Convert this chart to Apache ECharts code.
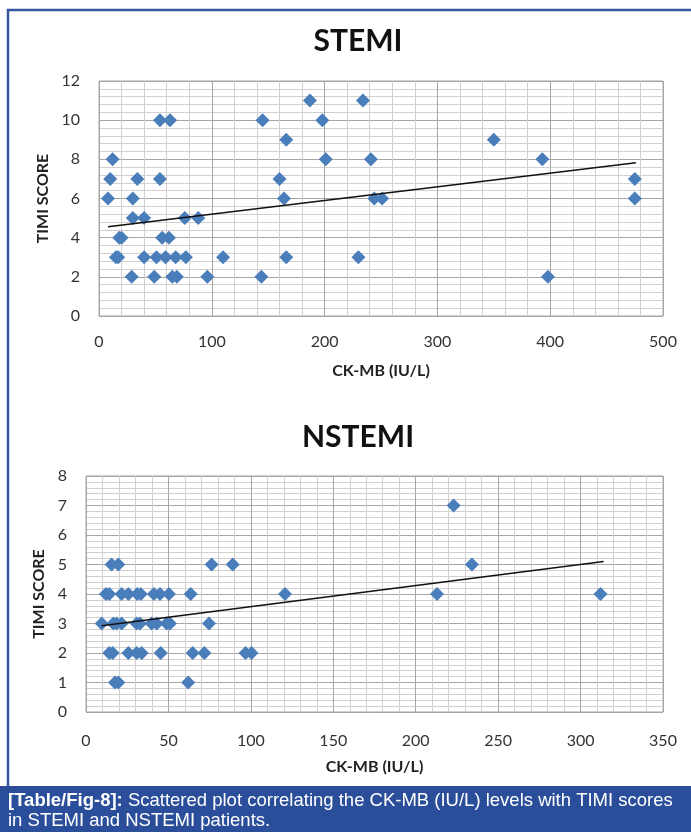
<!DOCTYPE html>
<html>
<head>
<meta charset="utf-8">
<script src="https://cdn.jsdelivr.net/npm/echarts@6/dist/echarts.min.js"></script>
<style>
html,body{margin:0;padding:0;background:#fff;}
#c{width:691px;height:832px;}
</style>
</head>
<body>
<div id="c"></div>
<script>
// STEMI data
var stemiX = [12, 10, 8, 30, 34, 54, 54, 63, 30, 40, 76, 88, 18, 20, 56, 62, 15, 17, 40, 51, 59, 68, 77, 110, 166, 29, 49, 65, 69, 96, 144, 145, 166, 187, 198, 201, 160, 164, 234, 241, 244, 251, 230, 350, 393, 398, 475, 475];
var stemiY = [8, 7, 6, 6, 7, 7, 10, 10, 5, 5, 5, 5, 4, 4, 4, 4, 3, 3, 3, 3, 3, 3, 3, 3, 3, 2, 2, 2, 2, 2, 2, 10, 9, 11, 10, 8, 7, 6, 11, 8, 6, 6, 3, 9, 8, 2, 7, 6];
var stemiTrendX = [8, 476];
var stemiTrendY = [4.56, 7.83];

// NSTEMI data
var nstemiX = [15.5, 19.6, 76.2, 89.0,
  12.1, 14.1, 21.6, 25.7, 31.1, 33.2, 41.2, 44.9, 50.3, 63.5, 120.7, 212.9, 312.1,
  9.5, 16.6, 18.6, 21.6, 30.7, 32.7, 39.8, 42.9, 48.9, 50.9, 74.6,
  14.1, 16.2, 25.7, 30.7, 33.8, 45.3, 64.7, 71.8, 96.8, 100.4,
  17.6, 19.6, 62.0,
  223.0, 234.1];
var nstemiY = [5, 5, 5, 5,
  4, 4, 4, 4, 4, 4, 4, 4, 4, 4, 4, 4, 4,
  3, 3, 3, 3, 3, 3, 3, 3, 3, 3, 3,
  2, 2, 2, 2, 2, 2, 2, 2, 2, 2,
  1, 1, 1,
  7, 5];
var nstemiTrendX = [9.5, 314];
var nstemiTrendY = [2.92, 5.10];

var titles = ['STEMI', 'NSTEMI'];
var xName = 'CK-MB (IU/L)';
var yName = 'TIMI SCORE';

function zip(a, b) { return a.map(function (v, i) { return [v, b[i]]; }); }

var font = 'Lato, "Liberation Sans", sans-serif';
var labelStyle = { color: '#333', fontSize: 16, fontFamily: font };
var nameStyle = { color: '#222', fontSize: 16, fontWeight: 'bold', fontFamily: font };

function xAxis(gi, max, interval, margin) {
  return {
    gridIndex: gi, type: 'value', min: 0, max: max, interval: interval,
    name: xName, nameLocation: 'middle', nameGap: 47, nameTextStyle: nameStyle,
    axisLine: { show: false }, axisTick: { show: false },
    axisLabel: Object.assign({ margin: margin }, labelStyle),
    splitLine: { show: true, lineStyle: { color: '#a6a6a6', width: 1 } },
    minorTick: { show: false, splitNumber: 5 },
    minorSplitLine: { show: true, lineStyle: { color: '#d0d0d0', width: 1 } }
  };
}
function yAxis(gi, max, interval, gap) {
  return {
    gridIndex: gi, type: 'value', min: 0, max: max, interval: interval,
    name: yName, nameLocation: 'middle', nameGap: gap, nameRotate: 90, nameTextStyle: nameStyle,
    axisLine: { show: false }, axisTick: { show: false },
    axisLabel: Object.assign({ margin: 19 }, labelStyle),
    splitLine: { show: true, lineStyle: { color: '#a6a6a6', width: 1 } },
    minorTick: { show: false, splitNumber: 5 },
    minorSplitLine: { show: true, lineStyle: { color: '#d0d0d0', width: 1 } }
  };
}

var chart = echarts.init(document.getElementById('c'), null, { renderer: 'canvas' });
chart.setOption({
  animation: false,
  backgroundColor: '#fff',
  title: [
    { text: titles[0], left: 353, top: 21, textAlign: 'center',
      textStyle: { fontSize: 30, fontWeight: 'bold', color: '#111', fontFamily: font } },
    { text: titles[1], left: 353, top: 417, textAlign: 'center',
      textStyle: { fontSize: 30, fontWeight: 'bold', color: '#111', fontFamily: font } }
  ],
  grid: [
    { left: 99, top: 81, width: 564, height: 235, show: true, borderColor: '#a6a6a6', borderWidth: 1, backgroundColor: 'transparent' },
    { left: 86, top: 476, width: 577, height: 236, show: true, borderColor: '#a6a6a6', borderWidth: 1, backgroundColor: 'transparent' }
  ],
  xAxis: [xAxis(0, 500, 100, 18), xAxis(1, 350, 50, 21)],
  yAxis: [yAxis(0, 12, 2, 46), yAxis(1, 8, 1, 38)],
  series: [
    { type: 'scatter', xAxisIndex: 0, yAxisIndex: 0, data: zip(stemiX, stemiY),
      symbol: 'diamond', symbolSize: 14, itemStyle: { color: '#4a7ebb', opacity: 1 } },
    { type: 'line', xAxisIndex: 0, yAxisIndex: 0, data: zip(stemiTrendX, stemiTrendY),
      symbol: 'none', lineStyle: { color: '#111', width: 1.5 }, z: 3 },
    { type: 'scatter', xAxisIndex: 1, yAxisIndex: 1, data: zip(nstemiX, nstemiY),
      symbol: 'diamond', symbolSize: 14, itemStyle: { color: '#4a7ebb', opacity: 1 } },
    { type: 'line', xAxisIndex: 1, yAxisIndex: 1, data: zip(nstemiTrendX, nstemiTrendY),
      symbol: 'none', lineStyle: { color: '#111', width: 1.5 }, z: 3 }
  ],
  graphic: [
    { type: 'polyline', shape: { points: [[8, 786], [8, 10], [691, 10]] },
      style: { stroke: '#34579f', lineWidth: 2.5, fill: null }, z: 10 },
    { type: 'rect', shape: { x: 0, y: 786, width: 691, height: 46 },
      style: { fill: '#2b4e9b' }, z: 10 },
    { type: 'text', left: 8, top: 791, z: 11,
      style: {
        text: '{b|[Table/Fig-8]:} Scattered plot correlating the CK-MB (IU/L) levels with TIMI scores\nin STEMI and NSTEMI patients.',
        fill: '#fff', font: '18.5px "Liberation Sans", Arial, sans-serif', lineHeight: 20,
        rich: { b: { fontWeight: 'bold', fill: '#fff', fontSize: 18.5, lineHeight: 20, fontFamily: '"Liberation Sans", Arial, sans-serif' } }
      } }
  ]
});
</script>
</body>
</html>
